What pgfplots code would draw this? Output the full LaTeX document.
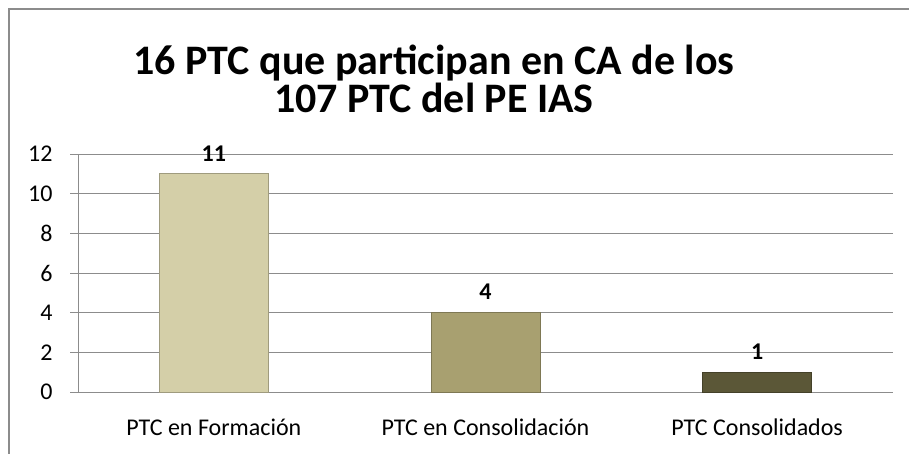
\documentclass[border=0pt]{standalone}
\usepackage{pgfplots}
\pgfplotsset{compat=1.18}
\usepackage{fontspec}
\setmainfont{Carlito}
\definecolor{barA}{HTML}{D4CFA8}
\definecolor{barB}{HTML}{A8A070}
\definecolor{barC}{HTML}{5B5737}
\definecolor{gridc}{HTML}{8C8C8C}
\begin{document}
\begin{tikzpicture}[x=1pt,y=1pt]
\clip (0,0) rectangle (909,453);
\useasboundingbox (0,0) rectangle (909,453);
\draw[gridc, line width=1.6pt] (8.8,-10) -- (8.8,444.2) -- (930,444.2);
\node[font=\fontsize{42}{50}\selectfont\bfseries, anchor=base] at (434,378) {16 PTC que participan en CA de los};
\node[font=\fontsize{42}{50}\selectfont\bfseries, anchor=base] at (434,340) {107 PTC del PE IAS};
\begin{axis}[
  at={(78pt,61pt)}, anchor=south west, scale only axis,
  width=815pt, height=238pt,
  xmin=-0.5, xmax=2.5, ymin=0, ymax=12,
  ytick={0,2,...,12},
  xtick={0,1,2},
  xticklabels={PTC en Formación, PTC en Consolidación, PTC Consolidados},
  major x tick style={draw=none},
  extra x ticks={-0.5,0.5,1.5,2.5},
  extra x tick labels={},
  extra x tick style={major tick length=9pt, tick style={gridc, line width=1pt}, grid=none},
  tick align=outside,
  major tick length=8pt,
  ytick style={gridc, line width=1pt},
  ymajorgrids,
  grid style={gridc, line width=1pt},
  axis x line*=bottom, axis y line*=left,
  axis line style={gridc, line width=1pt, -},
  ticklabel style={font=\fontsize{24}{28}\selectfont},
  /pgf/number format/assume math mode=true,
  yticklabel style={xshift=-14pt},
  xticklabel style={yshift=-15pt},
  ybar, bar width=109pt, bar shift=0pt,
  nodes near coords,
  every node near coord/.append style={font=\fontsize{24}{28}\selectfont\bfseries, yshift=9pt},
  clip=false,
]
\addplot[fill=barA, draw=barA!75!black, line width=1pt] coordinates {(0,11)};
\addplot[fill=barB, draw=barB!75!black, line width=1pt] coordinates {(1,4)};
\addplot[fill=barC, draw=barC!75!black, line width=1pt] coordinates {(2,1)};
\end{axis}
\end{tikzpicture}
\end{document}
